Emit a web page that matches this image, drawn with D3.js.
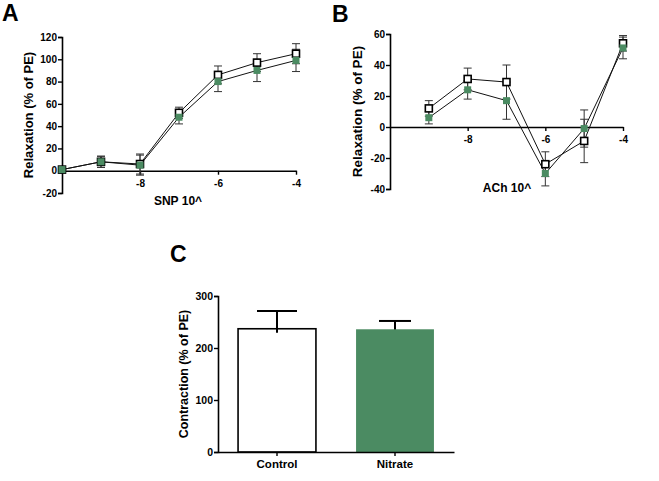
<!DOCTYPE html>
<html>
<head>
<meta charset="utf-8">
<script src="https://cdn.jsdelivr.net/npm/d3@7"></script>
<style>
html,body{margin:0;padding:0;background:#fff;}
svg{display:block;font-family:"Liberation Sans",Arial,sans-serif;font-weight:bold;}
</style>
</head>
<body>
<svg id="fig" width="659" height="481"></svg>
<script>
// ---- data ----
const snpDoses = [-10, -9, -8, -7, -6, -5, -4];
const snpControl = [1, 8, 6, 52, 86, 97, 105];
const snpControlErr = [1, 5, 9, 5, 8, 8, 9];
const snpNitrate = [1, 8, 5, 48, 80, 90, 99];
const snpNitrateErr = [1, 5, 9, 6, 9, 10, 10];

const achDoses = [-9, -8, -7, -6, -5, -4];
const achControl = [12, 31, 29, -24, -9, 54];
const achControlErr = [5, 7, 11, 8, 14, 5];
const achNitrate = [6, 24, 17, -30, -1, 51];
const achNitrateErr = [4, 6, 12, 8, 12, 7];

const xTickValues = [-8, -6, -4];
const snpYTicks = [-20, 0, 20, 40, 60, 80, 100, 120];
const achYTicks = [-40, -20, 0, 20, 40, 60];

const barCategories = ["Control", "Nitrate"];
const barValues = [237, 236];
const barErr = [34, 16];
const barYTicks = [0, 100, 200, 300];

const GREEN = "#4b8b62";
const FONT = "Liberation Sans, Arial, sans-serif";
const fmt = d => String(d);
const svg = d3.select("#fig");

function panelLetter(txt, x, y) {
  svg.append("text").attr("x", x).attr("y", y).attr("font-size", 23)
    .attr("font-weight", "bold").text(txt);
}

function styleAxis(sel, fs) {
  sel.select(".domain").attr("stroke-width", 1.6);
  sel.selectAll(".tick line").attr("stroke-width", 1.4);
  sel.selectAll("text").attr("font-size", fs).attr("font-weight", "bold").attr("font-family", FONT);
}

function linePanel(opts) {
  const {x, y, doses, ctrl, ctrlErr, nit, nitErr, yTicks, xLabel, xLabelPos, yLabelX, yLabelSize} = opts;
  const g = svg.append("g");
  const ga = g.append("g").attr("transform", `translate(${x.range()[0]},0)`)
    .call(d3.axisLeft(y).tickValues(yTicks).tickSize(4).tickPadding(1).tickFormat(fmt));
  styleAxis(ga, 10);
  const gx = g.append("g").attr("transform", `translate(0,${y(0)})`)
    .call(d3.axisBottom(x).tickValues(xTickValues).tickSize(4).tickPadding(5).tickSizeOuter(0).tickFormat(fmt));
  styleAxis(gx, 10);

  const line = d3.line().x((d, i) => x(doses[i])).y(d => y(d));
  g.append("path").datum(ctrl).attr("d", line).attr("fill", "none").attr("stroke", "#111").attr("stroke-width", 1);
  g.append("path").datum(nit).attr("d", line).attr("fill", "none").attr("stroke", "#111").attr("stroke-width", 1);

  function errBars(vals, errs) {
    vals.forEach((v, i) => {
      const cx = x(doses[i]);
      const eg = g.append("g").attr("stroke", "#333").attr("stroke-width", 1);
      eg.append("line").attr("x1", cx).attr("x2", cx).attr("y1", y(v - errs[i])).attr("y2", y(v + errs[i]));
      eg.append("line").attr("x1", cx - 4).attr("x2", cx + 4).attr("y1", y(v - errs[i])).attr("y2", y(v - errs[i]));
      eg.append("line").attr("x1", cx - 4).attr("x2", cx + 4).attr("y1", y(v + errs[i])).attr("y2", y(v + errs[i]));
    });
  }
  errBars(ctrl, ctrlErr);
  errBars(nit, nitErr);

  const s = 7;
  g.selectAll(".ctrl").data(ctrl).join("rect")
    .attr("x", (d, i) => x(doses[i]) - s / 2).attr("y", d => y(d) - s / 2)
    .attr("width", s).attr("height", s).attr("fill", "#fff").attr("stroke", "#000").attr("stroke-width", 1.6);
  g.selectAll(".nit").data(nit).join("rect")
    .attr("x", (d, i) => x(doses[i]) - s / 2).attr("y", d => y(d) - s / 2)
    .attr("width", s).attr("height", s).attr("fill", GREEN);

  g.append("text").attr("x", xLabelPos[0]).attr("y", xLabelPos[1]).attr("text-anchor", "middle")
    .attr("font-size", 12).text(xLabel);
  const yc = (y.range()[0] + y.range()[1]) / 2;
  g.append("text").attr("transform", `translate(${yLabelX},${yc}) rotate(-90)`).attr("text-anchor", "middle")
    .attr("font-size", yLabelSize).text("Relaxation (% of PE)");
}

// Panel A
panelLetter("A", 2, 21);
linePanel({
  x: d3.scaleLinear().domain([-10, -4]).range([62, 296]),
  y: d3.scaleLinear().domain([-20, 120]).range([193, 37]),
  doses: snpDoses, ctrl: snpControl, ctrlErr: snpControlErr, nit: snpNitrate, nitErr: snpNitrateErr,
  yTicks: snpYTicks, xLabel: "SNP 10^", xLabelPos: [178, 205], yLabelX: 33, yLabelSize: 13
});

// Panel B
panelLetter("B", 332, 22);
linePanel({
  x: d3.scaleLinear().domain([-10, -4]).range([390, 623]),
  y: d3.scaleLinear().domain([-40, 60]).range([189, 34]),
  doses: achDoses, ctrl: achControl, ctrlErr: achControlErr, nit: achNitrate, nitErr: achNitrateErr,
  yTicks: achYTicks, xLabel: "ACh 10^", xLabelPos: [507, 192], yLabelX: 362, yLabelSize: 13.5
});

// Panel C
panelLetter("C", 170, 262);
{
  const x = d3.scaleBand().domain(barCategories).range([218, 454]).paddingInner(0.34).paddingOuter(0.17);
  const y = d3.scaleLinear().domain([0, 300]).range([452, 296]);
  const g = svg.append("g");
  barValues.forEach((v, i) => {
    const cx = x(barCategories[i]) + x.bandwidth() / 2;
    const capW = i === 0 ? 40 : 32;
    g.append("line").attr("x1", cx).attr("x2", cx).attr("y1", y(v) + 4).attr("y2", y(v + barErr[i]))
      .attr("stroke", "#000").attr("stroke-width", 2);
    g.append("line").attr("x1", cx - capW / 2).attr("x2", cx + capW / 2).attr("y1", y(v + barErr[i])).attr("y2", y(v + barErr[i]))
      .attr("stroke", "#000").attr("stroke-width", 2);
  });
  g.selectAll(".bar").data(barValues).join("rect")
    .attr("x", (d, i) => x(barCategories[i]))
    .attr("y", d => y(d))
    .attr("width", x.bandwidth())
    .attr("height", d => y(0) - y(d))
    .attr("fill", (d, i) => i === 0 ? "none" : GREEN)
    .attr("stroke", (d, i) => i === 0 ? "#000" : "none")
    .attr("stroke-width", 1.6);
  const ya = g.append("g").attr("transform", "translate(218,0)")
    .call(d3.axisLeft(y).tickValues(barYTicks).tickSize(4).tickPadding(1).tickFormat(fmt));
  styleAxis(ya, 10.5);
  const xa = g.append("g").attr("transform", `translate(0,${y(0)})`)
    .call(d3.axisBottom(x).tickSize(4).tickSizeOuter(0).tickPadding(4));
  styleAxis(xa, 11.5);
  g.append("text").attr("transform", `translate(188,374) rotate(-90)`).attr("text-anchor", "middle")
    .attr("font-size", 12.5).text("Contraction (% of PE)");
}
</script>
</body>
</html>
